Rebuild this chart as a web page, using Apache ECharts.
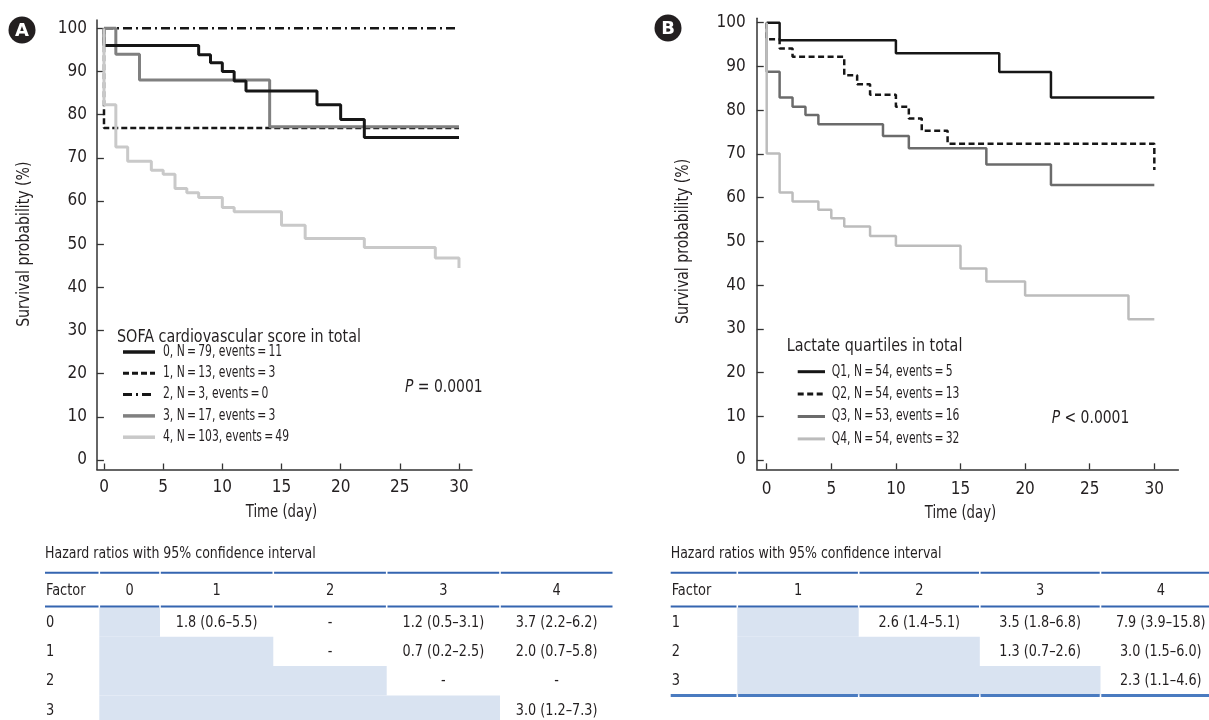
<!DOCTYPE html>
<html><head><meta charset="utf-8">
<script src="https://cdn.jsdelivr.net/npm/echarts@6/dist/echarts.min.js"></script>
<style>html,body{margin:0;padding:0;background:#fff}#c{width:1209px;height:720px}</style>
</head><body><div id="c"></div>
<script>
const FONT = "'DejaVu Sans Condensed','Liberation Sans Narrow',sans-serif";
const INK = '#231f20';

// ---------- Panel A: SOFA cardiovascular score ----------
const namesA = ['0, N\u2009=\u200979, events\u2009=\u200911','1, N\u2009=\u200913, events\u2009=\u20093','2, N\u2009=\u20093, events\u2009=\u20090','3, N\u2009=\u200917, events\u2009=\u20093','4, N\u2009=\u2009103, events\u2009=\u200949'];
const timeA0 = [0,0,8,9,10,11,12,18,20,22,30];
const survA0 = [100,96,93.9,92,90,87.8,85.5,82.3,78.9,74.7,74.7];
const timeA1 = [0,0,30];
const survA1 = [100,76.9,76.9];
const timeA2 = [0,30];
const survA2 = [100,100];
const timeA3 = [0,1,3,14,30];
const survA3 = [100,94,88,77.2,77.2];
const timeA4 = [0,0,1,2,4,5,6,7,8,10,11,15,17,22,28,30];
const survA4 = [100,82.3,72.5,69.2,67.1,66.2,62.9,61.9,60.8,58.5,57.5,54.4,51.3,49.2,46.8,44.5];

// ---------- Panel B: Lactate quartiles ----------
const namesB = ['Q1, N\u2009=\u200954, events\u2009=\u20095','Q2, N\u2009=\u200954, events\u2009=\u200913','Q3, N\u2009=\u200953, events\u2009=\u200916','Q4, N\u2009=\u200954, events\u2009=\u200932'];
const timeB1 = [0,1,10,18,22,30];
const survB1 = [100,96,93,88.7,82.9,82.9];
const timeB2 = [0,0,1,2,6,7,8,10,11,12,14,30];
const survB2 = [100,96.2,94.1,92.2,88,85.9,83.5,80.8,78.1,75.3,72.3,66.3];
const timeB3 = [0,0,1,2,3,4,9,11,17,22,30];
const survB3 = [100,88.8,82.9,80.8,78.9,76.8,74.1,71.3,67.6,62.9,62.9];
const timeB4 = [0,0,1,2,4,5,6,8,10,15,17,20,28,30];
const survB4 = [100,70.1,61.2,59.1,57.2,55.3,53.4,51.2,49,43.8,40.8,37.6,32.2,32.2];

const xTicks = [0,5,10,15,20,25,30];
const yTicks = [0,10,20,30,40,50,60,70,80,90,100];

// ---------- Hazard ratio tables ----------
const hrTitle = 'Hazard ratios with 95% confidence interval';
const hrHeadA = ['Factor','0','1','2','3','4'];
const hrRowLabelsA = ['0','1','2','3'];
const hrCellsA = [
  ['', '1.8 (0.6–5.5)', '-', '1.2 (0.5–3.1)', '3.7 (2.2–6.2)'],
  ['', '', '-', '0.7 (0.2–2.5)', '2.0 (0.7–5.8)'],
  ['', '', '', '-', '-'],
  ['', '', '', '', '3.0 (1.2–7.3)']
];
const hrHeadB = ['Factor','1','2','3','4'];
const hrRowLabelsB = ['1','2','3'];
const hrCellsB = [
  ['', '2.6 (1.4–5.1)', '3.5 (1.8–6.8)', '7.9 (3.9–15.8)'],
  ['', '', '1.3 (0.7–2.6)', '3.0 (1.5–6.0)'],
  ['', '', '', '2.3 (1.1–4.6)']
];

// ---------- styles ----------
const BLACK = '#161616';
const styleA = [ // colour, width, dash
  [BLACK, 3, 'solid'], [BLACK, 2.5, [6, 3]], [BLACK, 2.5, [9, 4, 2, 4]], ['#808080', 3, 'solid'], ['#c9c9c9', 3, 'solid']
];
const styleB = [
  [BLACK, 2.5, 'solid'], [BLACK, 2.5, [6, 3.5]], ['#6b6b6b', 2.5, 'solid'], ['#bcbcbc', 2.5, 'solid']
];

function km(t, s) { return t.map((v, i) => [v, s[i]]); }

function line(name, xi, data, st, z) {
  return { name, type: 'line', xAxisIndex: xi, yAxisIndex: xi, step: 'end', symbol: 'none',
    data, z, itemStyle: { color: st[0] }, lineStyle: { color: st[0], width: st[1], type: st[2] }, animation: false };
}

function xAxisCfg(gi, min, max, margin) {
  return { type: 'value', gridIndex: gi, min, max,
    axisLine: { show: true, onZero: false, lineStyle: { color: '#333', width: 1.5 } },
    axisTick: { show: true, inside: true, length: 6, customValues: xTicks, lineStyle: { color: '#333', width: 1.3 } },
    axisLabel: { customValues: xTicks, fontFamily: FONT, fontSize: 17, color: INK, margin },
    splitLine: { show: false } };
}
function yAxisCfg(gi, min, max, margin) {
  return { type: 'value', gridIndex: gi, min, max,
    axisLine: { show: true, onZero: false, lineStyle: { color: '#333', width: 1.5 } },
    axisTick: { show: true, inside: true, length: 7, customValues: yTicks, lineStyle: { color: '#333', width: 1.3 } },
    axisLabel: { customValues: yTicks, fontFamily: FONT, fontSize: 17, color: INK, margin },
    splitLine: { show: false } };
}

const graphics = [];
function txt(x, y, text, size, align, sx, extra) {
  graphics.push(Object.assign({ type: 'text', x, y, silent: true, scaleX: sx || 1,
    style: { text, fill: INK, font: size + 'px ' + FONT, align: align || 'left', verticalAlign: 'middle' } }, extra || {}));
}
// badges
[[22, 30, 'A'], [668, 28, 'B']].forEach(b => {
  graphics.push({ type: 'circle', shape: { cx: b[0], cy: b[1], r: 13.5 }, style: { fill: INK }, silent: true });
  graphics.push({ type: 'text', x: b[0], y: b[1] + 1, silent: true,
    style: { text: b[2], fill: '#fff', font: 'bold 18px "DejaVu Sans", sans-serif', align: 'center', verticalAlign: 'middle' } });
});
// axis titles
txt(24, 244.2, 'Survival probability (%)', 18, 'center', 0.87, { rotation: Math.PI / 2 });
txt(683.5, 241.4, 'Survival probability (%)', 18, 'center', 0.87, { rotation: Math.PI / 2 });
txt(281.5, 512, 'Time (day)', 18, 'center', 0.82);
txt(960.5, 513, 'Time (day)', 18, 'center', 0.82);
// legend titles
txt(117, 337, 'SOFA cardiovascular score in total', 18, 'left', 0.885);
txt(786.7, 346.5, 'Lactate quartiles in total', 18, 'left', 0.885);
// legends (drawn from the names and series styles)
function legend(names, styles, x0, w, xt, y0, dy) {
  names.forEach((n, i) => {
    const y = y0 + dy * i, st = styles[i];
    graphics.push({ type: 'line', silent: true, shape: { x1: x0, y1: y, x2: x0 + w, y2: y },
      style: { stroke: st[0], lineWidth: st[1] + 0.5, lineDash: st[2] === 'solid' ? null : st[2] } });
    txt(xt, y, n, 15, 'left', 0.8);
  });
}
legend(namesA, styleA, 123, 32, 163, 352, 21.3);
legend(namesB, styleB, 797.7, 27.3, 831.7, 371.7, 22.4);
// P values
[[405, 387, '{i|P} = 0.0001'], [1051.7, 418, '{i|P} < 0.0001']].forEach(p => {
  graphics.push({ type: 'text', x: p[0], y: p[1], silent: true, scaleX: 0.86,
    style: { text: p[2], fill: INK, font: '18px ' + FONT, verticalAlign: 'middle',
      rich: { i: { fontStyle: 'italic', fontFamily: FONT, fontSize: 18, fill: INK } } } });
});

// tables
const BLUE = '#3565b0', SHADE = '#d9e3f1';
function buildTable(colX, head, rowLabels, cells, bottomLine) {
  const top = 572.7, headY = 590.5, headLine = 606.5, rowH = 29.3;
  txt(colX[0], 554, hrTitle, 16, 'left', 0.872);
  rowLabels.forEach((rl, r) => {
    const y0 = headLine + 1 + r * rowH;
    graphics.push({ type: 'rect', silent: true, z: -1, shape: { x: colX[1], y: y0, width: colX[r + 2] - colX[1], height: rowH }, style: { fill: SHADE } });
  });
  const hLine = (y, w, c) => {
    for (let i = 0; i < colX.length - 1; i++) {
      graphics.push({ type: 'line', silent: true, shape: { x1: colX[i] + (i ? 0.8 : 0), y1: y, x2: colX[i + 1] - 0.8, y2: y }, style: { stroke: c, lineWidth: w } });
    }
  };
  hLine(top, 2, BLUE);
  hLine(headLine, 2, BLUE);
  if (bottomLine) hLine(headLine + rowLabels.length * rowH + 1, 3, '#4a7bc0');
  head.forEach((h, i) => {
    if (i === 0) txt(colX[0] + 1, headY, h, 16, 'left', 0.9);
    else txt((colX[i] + colX[i + 1]) / 2, headY, h, 16, 'center', 0.9);
  });
  rowLabels.forEach((rl, r) => {
    const cy = headLine + r * rowH + rowH / 2 + 1.5;
    txt(colX[0] + 1, cy, rl, 16, 'left', 0.9);
    cells[r].forEach((c, j) => { if (c) txt((colX[j + 1] + colX[j + 2]) / 2, cy, c, 16, 'center', 0.89); });
  });
}
buildTable([45, 99.3, 160, 273.3, 386.7, 500, 613.3], hrHeadA, hrRowLabelsA, hrCellsA, false);
buildTable([670.7, 737.3, 858.7, 979.8, 1100.5, 1221], hrHeadB, hrRowLabelsB, hrCellsB, true);

const option = {
  animation: false,
  backgroundColor: '#fff',
  grid: [
    { left: 96.9, top: 20.1, width: 375.1, height: 449.4, outerBoundsMode: 'none', containLabel: false },
    { left: 756.75, top: 18.33, width: 421.6, height: 451.0, outerBoundsMode: 'none', containLabel: false }
  ],
  xAxis: [xAxisCfg(0, -0.6, 31.1, 10), xAxisCfg(1, -0.77, 31.86, 12)],
  yAxis: [yAxisCfg(0, -2.2, 101.9, 10), yAxisCfg(1, -2.13, 101, 11)],
  series: [
    line(namesA[2], 0, km(timeA2, survA2), styleA[2], 2),
    line(namesA[1], 0, km(timeA1, survA1), styleA[1], 3),
    line(namesA[3], 0, km(timeA3, survA3), styleA[3], 4),
    line(namesA[0], 0, km(timeA0, survA0), styleA[0], 5),
    line(namesA[4], 0, km(timeA4, survA4), styleA[4], 6),
    line(namesB[2], 1, km(timeB3, survB3), styleB[2], 2),
    line(namesB[1], 1, km(timeB2, survB2), styleB[1], 3),
    line(namesB[0], 1, km(timeB1, survB1), styleB[0], 4),
    line(namesB[3], 1, km(timeB4, survB4), styleB[3], 5)
  ],
  graphic: graphics
};
const chart = echarts.init(document.getElementById('c'), null, { renderer: 'canvas' });
chart.setOption(option);
</script>
</body></html>
